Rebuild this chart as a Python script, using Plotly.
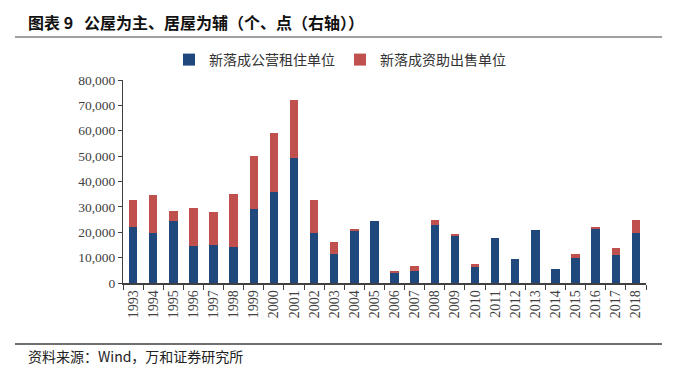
import plotly.graph_objects as go

years = [str(y) for y in range(1993, 2019)]
public_rental = [22000, 19700, 24300, 14400, 14800, 14000, 29200, 35700, 49200,
                 19900, 11400, 20800, 24500, 4300, 4600, 22700, 18800, 6200,
                 17700, 9600, 20700, 5400, 9800, 21500, 10900, 19900]
subsidised_sale = [10800, 15000, 4000, 15000, 13100, 21100, 21000, 23300, 22900,
                   12900, 4600, 200, 0, 200, 2100, 2200, 600, 1200,
                   0, 0, 0, 0, 1600, 300, 3000, 5000]
name_a = "新落成公营租住单位"
name_b = "新落成资助出售单位"
title_text = "图表 9   公屋为主、居屋为辅（个、点（右轴））"
source_text = "资料来源：Wind，万和证券研究所"

OFF = 8  # page body margin
W, H = 676 - OFF, 378 - OFF
# plot area in reference (page) pixels
X0, X1, Y0, Y1 = 123, 646, 80, 283
L, R, T, B = X0 - OFF, W - (X1 - OFF), Y0 - OFF, H - (Y1 - OFF)
PW, PH = W - L - R, H - T - B

def px(x):
    return (x - OFF - L) / PW

def py(y):
    return (H - B - (y - OFF)) / PH

cjk = "Noto Sans CJK SC"
serif = "Liberation Serif"

fig = go.Figure()
fig.add_trace(go.Bar(x=years, y=public_rental, name=name_a, marker_color="#1F497D",
                     marker_line_width=0))
fig.add_trace(go.Bar(x=years, y=subsidised_sale, name=name_b, marker_color="#C0504D",
                     marker_line_width=0))

fig.update_layout(
    width=W, height=H,
    margin=dict(l=L, r=R, t=T, b=B, autoexpand=False),
    barmode="stack",
    bargap=0.58,
    plot_bgcolor="white",
    paper_bgcolor="white",
    showlegend=True,
    legend=dict(orientation="h", xref="container", yref="container",
                x=(346 - OFF - 6) / W, xanchor="center", y=1 - (60 - OFF) / H,
                yanchor="middle",
                font=dict(family=cjk, size=14, color="#333333"),
                itemwidth=30, traceorder="normal", bgcolor="rgba(0,0,0,0)"),
    font=dict(family=serif, size=13, color="#404040"),
)

fig.update_yaxes(range=[0, 80000], tickvals=list(range(0, 80001, 10000)),
                 tickformat=",d", showgrid=False, showline=True, linecolor="#404040",
                 linewidth=1, ticks="outside", ticklen=4, tickcolor="#404040",
                 tickfont=dict(family=serif, size=13.5, color="#404040"), zeroline=False,
                 automargin=False)
fig.update_xaxes(type="category", tickangle=-90, showline=True, linecolor="#404040",
                 linewidth=1.5, ticks="outside", ticklen=5, tickcolor="#404040",
                 tickson="boundaries", showgrid=False, automargin=False,
                 tickfont=dict(family=serif, size=14, color="#404040"))

fig.add_annotation(text="<b>" + title_text + "</b>", xref="paper", yref="paper",
                   x=px(26), y=py(22), xanchor="left", yanchor="middle", showarrow=False,
                   font=dict(family=cjk, size=16, color="#111111"))
fig.add_annotation(text=source_text, xref="paper", yref="paper",
                   x=px(26), y=py(356), xanchor="left", yanchor="middle", showarrow=False,
                   font=dict(family=cjk, size=14, color="#222222"))
fig.add_shape(type="line", xref="paper", yref="paper", x0=px(15), x1=px(662),
              y0=py(37), y1=py(37), line=dict(color="#808080", width=1.5))
fig.add_shape(type="line", xref="paper", yref="paper", x0=px(15), x1=px(662),
              y0=py(344), y1=py(344), line=dict(color="#404040", width=1.5))

fig.write_html("out.html")
